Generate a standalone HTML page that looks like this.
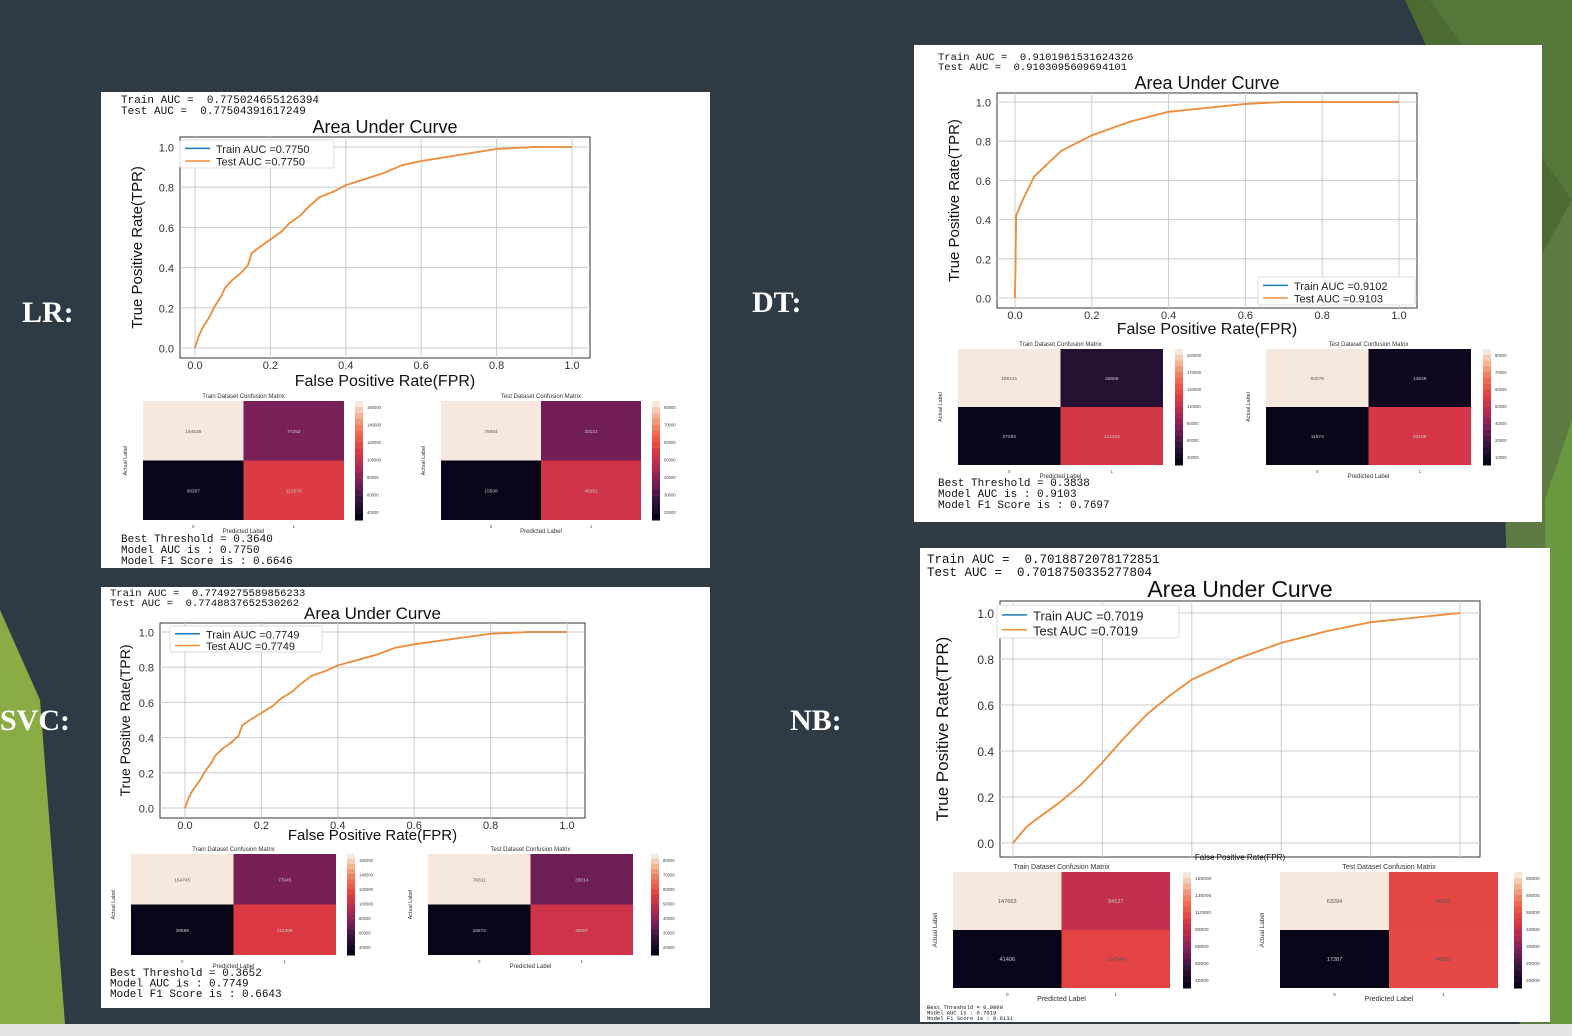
<!DOCTYPE html>
<html><head><meta charset="utf-8">
<style>
html,body{margin:0;padding:0}
body{width:1572px;height:1036px;position:relative;overflow:hidden;background:#2e3b44;font-family:"Liberation Sans",sans-serif}
.lbl{position:absolute;color:#fff;font-family:"Liberation Serif",serif;font-weight:bold;font-size:30px}
text{white-space:pre}
</style></head>
<body>
<svg width="1572" height="1036" style="position:absolute;left:0;top:0">
<polygon points="1405,0 1572,0 1572,360" fill="#4c6a32"/>
<polygon points="1430,0 1572,0 1572,200" fill="#56783a"/>
<polygon points="1500,330 1572,200 1572,1036 1520,1036" fill="#5c7a42"/>
<polygon points="1545,500 1572,420 1572,1036 1550,1036" fill="#6a9a40"/>
<polygon points="0,610 40,700 65,1024 0,1024" fill="#8aac45"/>
<rect x="0" y="1024" width="1572" height="12" fill="#e4e4e4"/>
</svg>
<div class="lbl" style="left:22px;top:296px">LR:</div>
<div class="lbl" style="left:752px;top:286px">DT:</div>
<div class="lbl" style="left:0px;top:704px">SVC:</div>
<div class="lbl" style="left:790px;top:704px">NB:</div>
<svg id="main" width="1572" height="1036" style="position:absolute;left:0;top:0"></svg>
<script>
// ROC data (fpr, tpr)
const lrFpr=[0,0.01,0.02,0.04,0.05,0.07,0.08,0.1,0.12,0.14,0.15,0.17,0.2,0.23,0.25,0.28,0.3,0.33,0.37,0.4,0.45,0.5,0.55,0.6,0.7,0.8,0.9,1];
const lrTpr=[0,0.06,0.1,0.16,0.2,0.26,0.3,0.34,0.37,0.41,0.47,0.5,0.54,0.58,0.62,0.66,0.7,0.75,0.78,0.81,0.84,0.87,0.91,0.93,0.96,0.99,1,1];
const dtFpr=[0,0.003,0.02,0.05,0.12,0.2,0.3,0.4,0.5,0.6,0.7,1];
const dtTpr=[0,0.42,0.5,0.62,0.75,0.83,0.9,0.95,0.97,0.99,1,1];
const nbFpr=[0,0.03,0.05,0.1,0.15,0.2,0.25,0.3,0.35,0.4,0.5,0.6,0.7,0.8,0.9,1];
const nbTpr=[0,0.07,0.1,0.17,0.25,0.35,0.46,0.56,0.64,0.71,0.8,0.87,0.92,0.96,0.98,1];
const ticks=[0,0.2,0.4,0.6,0.8,1.0];
const tickLabels=["0.0","0.2","0.4","0.6","0.8","1.0"];
// confusion matrix values [TN,FP,FN,TP]
const lrTrainCM=[164538,77252,38387,112570];
const lrTestCM=[76504,33121,15508,48251];
const dtTrainCM=[196131,45659,27293,121443];
const dtTestCM=[84076,13549,11674,52165];
const svcTrainCM=[164745,77045,38589,112368];
const svcTestCM=[76611,33014,15672,48087];
const nbTrainCM=[147663,94127,41406,107549];
const nbTestCM=[63294,46331,17287,46552];

const NS="http://www.w3.org/2000/svg";
const svg=document.getElementById('main');
function el(tag,attrs,parent,text){const e=document.createElementNS(NS,tag);for(const k in attrs)e.setAttribute(k,attrs[k]);if(text!==undefined)e.textContent=text;(parent||svg).appendChild(e);return e;}
function rocket(t){const stops=[[0,[8,5,25]],[0.15,[50,20,60]],[0.3,[118,31,88]],[0.45,[180,42,82]],[0.6,[225,60,65]],[0.75,[240,110,80]],[0.9,[245,180,150]],[1,[246,232,220]]];
 for(let i=1;i<stops.length;i++){if(t<=stops[i][0]){const a=stops[i-1],b=stops[i];const f=(t-a[0])/(b[0]-a[0]);return 'rgb('+a[1].map((v,j)=>Math.round(v+(b[1][j]-v)*f)).join(',')+')';}}return 'rgb(246,232,220)';}
function cm(g,x,y,w,h,cbx,vals,title,fs){
 const mn=Math.min(...vals),mx=Math.max(...vals);
 const t=el('text',{x:x+w/2,y:y-3,'font-size':fs,'text-anchor':'middle',fill:'#333'},g,title);
 
 vals.forEach((v,i)=>{const cx=x+(i%2)*w/2,cy=y+Math.floor(i/2)*h/2;
  const r=el('rect',{x:cx,y:cy,width:w/2,height:h/2,fill:rocket((v-mn)/(mx-mn))},g);
  
  el('text',{x:cx+w/4,y:cy+h/4+2,'font-size':fs*0.8,'text-anchor':'middle',fill:(v-mn)/(mx-mn)>0.6?'#555':'#ccc'},g,v);});
 for(let k=0;k<20;k++){el('rect',{x:cbx,y:y+k*h/20,width:8,height:h/20+0.5,fill:rocket(1-k/19)},g);}
 for(let k=0;k<7;k++)el('text',{x:cbx+12,y:y+8+k*(h-14)/6,'font-size':fs*0.7,fill:'#444'},g,(Math.round((mx-(mx-mn)*k/6)/10000)*10000));
 const al=el('text',{x:x-16,y:y+h/2,'font-size':fs*0.9,'text-anchor':'middle',fill:'#333',transform:`rotate(-90 ${x-16} ${y+h/2})`},g,'Actual Label');
 
 el('text',{x:x+w/4,y:y+h+8,'font-size':fs*0.7,'text-anchor':'middle',fill:'#444'},g,'0');
 el('text',{x:x+3*w/4,y:y+h+8,'font-size':fs*0.7,'text-anchor':'middle',fill:'#444'},g,'1');
 el('text',{x:x+w/2,y:y+h+13,'font-size':fs,'text-anchor':'middle',fill:'#333'},g,'Predicted Label');
}
function panel(p){
 const g=el('g',{});
 
 
 el('rect',{x:p.bx,y:p.by,width:p.bw,height:p.bh,fill:'#fff'},g);
 el('text',{x:p.hx,y:p.hy,'font-family':'Liberation Mono,monospace','font-size':p.hfs,fill:'#111'},g,p.h1);
 el('text',{x:p.hx,y:p.hy+p.hls,'font-family':'Liberation Mono,monospace','font-size':p.hfs,fill:'#111'},g,p.h2);
 const X=v=>p.x0+(p.x1-p.x0)*v, Y=v=>p.y0+(p.y1-p.y0)*v;
 el('rect',{x:p.fx,y:p.fy,width:p.fw,height:p.fh,fill:'none',stroke:'#333','stroke-width':1},g);
 ticks.forEach((t,i)=>{
  el('line',{x1:X(t),y1:p.fy,x2:X(t),y2:p.fy+p.fh,stroke:'#ccc','stroke-width':1},g);
  el('line',{x1:p.fx,y1:Y(t),x2:p.fx+p.fw,y2:Y(t),stroke:'#ccc','stroke-width':1},g);
  if(p.xt)el('text',{x:X(t),y:p.fy+p.fh+p.tfs,'font-size':p.tfs,'text-anchor':'middle',fill:'#333'},g,tickLabels[i]);
  el('text',{x:p.fx-6,y:Y(t)+p.tfs/2-1,'font-size':p.tfs,'text-anchor':'end',fill:'#333'},g,tickLabels[i]);
 });
 const pts=p.fpr.map((f,i)=>X(f)+','+Y(p.tpr[i])).join(' ');
 const tr=el('polyline',{points:pts,fill:'none',stroke:'#1f77b4','stroke-width':1.5},g);
 
 const te=el('polyline',{points:pts,fill:'none',stroke:'#f28e3a','stroke-width':1.8},g);
 
 const tt=el('text',{x:p.fx+p.fw/2,y:p.fy-4,'font-size':p.ttfs,'text-anchor':'middle',fill:'#111'},g,'Area Under Curve');
 
 const xl=el('text',{x:p.fx+p.fw/2,y:p.xly,'font-size':p.xlfs,'text-anchor':'middle',fill:'#111'},g,'False Positive Rate(FPR)');
 
 const yl=el('text',{x:p.ylx,y:p.fy+p.fh/2,'font-size':p.ylfs,'text-anchor':'middle',fill:'#111',transform:`rotate(-90 ${p.ylx} ${p.fy+p.fh/2})`},g,'True Positive Rate(TPR)');
 
 const lg=el('g',{},g);
 
 el('rect',{x:p.lx,y:p.ly,width:p.lw,height:p.lh,fill:'#fff',stroke:'#ddd',rx:2},lg);
 el('line',{x1:p.lx+5,y1:p.ly+p.lh*0.3,x2:p.lx+30,y2:p.ly+p.lh*0.3,stroke:'#1f77b4','stroke-width':1.5},lg);
 el('line',{x1:p.lx+5,y1:p.ly+p.lh*0.75,x2:p.lx+30,y2:p.ly+p.lh*0.75,stroke:'#f28e3a','stroke-width':1.5},lg);
 el('text',{x:p.lx+36,y:p.ly+p.lh*0.3+p.lfs/2-1,'font-size':p.lfs,fill:'#222'},lg,'Train AUC =0.'+p.tra);
 el('text',{x:p.lx+36,y:p.ly+p.lh*0.75+p.lfs/2-1,'font-size':p.lfs,fill:'#222'},lg,'Test AUC =0.'+p.tea);
 cm(g,p.c1[0],p.c1[1],p.c1[2],p.c1[3],p.c1[4],p.cm1,'Train Dataset Confusion Matrix',p.cfs);
 cm(g,p.c2[0],p.c2[1],p.c2[2],p.c2[3],p.c2[4],p.cm2,'Test Dataset Confusion Matrix',p.cfs);
 p.foot.forEach((s,i)=>el('text',{x:p.hx,y:p.footy+i*p.fls,'font-family':'Liberation Mono,monospace','font-size':p.ffs,fill:'#111'},g,s));
}
panel({name:'lr-panel',bx:101,by:92,bw:609,bh:476,hx:121,hy:103,hls:11,hfs:11,h1:'Train AUC =  0.775024655126394',h2:'Test AUC =  0.77504391617249',
 x0:195,x1:572,y0:348,y1:147,fx:180,fy:137,fw:410,fh:221,xt:true,tfs:11,ttfs:18,xlfs:16,ylfs:15,xly:386,ylx:142,
 fpr:lrFpr,tpr:lrTpr,lx:180,ly:140,lw:154,lh:28,lfs:11,tra:'7750',tea:'7750',
 c1:[143,401,201,119,355],c2:[441,401,200,119,652],cm1:lrTrainCM,cm2:lrTestCM,cfs:6,
 foot:['Best Threshold = 0.3640','Model AUC is : 0.7750','Model F1 Score is : 0.6646'],footy:542,fls:11,ffs:11});
panel({name:'dt-panel',bx:914,by:45,bw:628,bh:477,hx:938,hy:60,hls:10,hfs:10.5,h1:'Train AUC =  0.9101961531624326',h2:'Test AUC =  0.9103095609694101',
 x0:1015,x1:1399,y0:298,y1:102,fx:997,fy:93,fw:420,fh:215,xt:true,tfs:11,ttfs:18,xlfs:16,ylfs:15,xly:334,ylx:959,
 fpr:dtFpr,tpr:dtTpr,lx:1258,ly:277,lw:157,lh:28,lfs:11,tra:'9102',tea:'9103',
 c1:[958,349,205,116,1175],c2:[1266,349,205,116,1483],cm1:dtTrainCM,cm2:dtTestCM,cfs:6,
 foot:['Best Threshold = 0.3838','Model AUC is : 0.9103','Model F1 Score is : 0.7697'],footy:486,fls:11,ffs:11});
panel({name:'svc-panel',bx:101,by:587,bw:609,bh:421,hx:110,hy:596,hls:10,hfs:10.5,h1:'Train AUC =  0.7749275589856233',h2:'Test AUC =  0.7748837652530262',
 x0:185,x1:567,y0:808,y1:632,fx:160,fy:623,fw:425,fh:195,xt:true,tfs:11,ttfs:17,xlfs:15,ylfs:14,xly:840,ylx:130,
 fpr:lrFpr,tpr:lrTpr,lx:170,ly:626,lw:152,lh:26,lfs:11,tra:'7749',tea:'7749',
 c1:[131,854,205,101,347],c2:[428,854,205,101,651],cm1:svcTrainCM,cm2:svcTestCM,cfs:6,
 foot:['Best Threshold = 0.3652','Model AUC is : 0.7749','Model F1 Score is : 0.6643'],footy:976,fls:10.5,ffs:11});
panel({name:'nb-panel',bx:920,by:548,bw:630,bh:474,hx:927,hy:563,hls:13,hfs:12.5,h1:'Train AUC =  0.7018872078172851',h2:'Test AUC =  0.7018750335277804',
 x0:1013,x1:1460,y0:843,y1:613,fx:1000,fy:601,fw:480,fh:256,xt:false,tfs:12,ttfs:23,xlfs:8,ylfs:17,xly:860,ylx:948,
 fpr:nbFpr,tpr:nbTpr,lx:997,ly:605,lw:182,lh:33,lfs:13,tra:'7019',tea:'7019',
 c1:[953,872,217,116,1183],c2:[1280,872,218,116,1514],cm1:nbTrainCM,cm2:nbTestCM,cfs:7,
 foot:['Best Threshold = 0.0000','Model AUC is : 0.7019','Model F1 Score is : 0.6131'],footy:1009,fls:5.5,ffs:5.5});
</script>
</body></html>
